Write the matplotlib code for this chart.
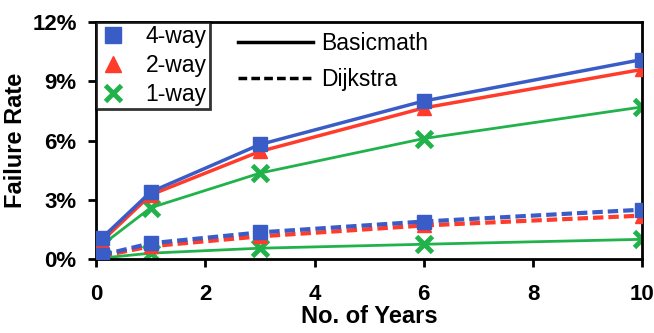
import matplotlib.pyplot as plt
from matplotlib.lines import Line2D

years = [0.1, 1, 3, 6, 10]

# Basicmath failure rate (%)
basic_4way = [1.05, 3.4, 5.8, 8.0, 10.1]
basic_2way = [0.9, 3.25, 5.45, 7.65, 9.6]
basic_1way = [0.7, 2.6, 4.35, 6.1, 7.7]

# Dijkstra failure rate (%)
dijk_4way = [0.2, 0.8, 1.35, 1.9, 2.5]
dijk_2way = [0.15, 0.65, 1.15, 1.7, 2.2]
dijk_1way = [0.05, 0.3, 0.55, 0.75, 1.0]

yticks = [0, 3, 6, 9, 12]
ytick_labels = ['0%', '3%', '6%', '9%', '12%']
xticks = [0, 2, 4, 6, 8, 10]

blue = '#3a5cc6'
red = '#ff3b2b'
green = '#22b24c'

plt.rcParams['font.family'] = ['Liberation Sans', 'DejaVu Sans']

fig = plt.figure(figsize=(6.54, 3.33), dpi=100)
ax = fig.add_axes([0.147, 0.222, 0.835, 0.712])

ax.plot(years, basic_4way, color=blue, lw=2.5, marker='s', ms=10, zorder=4)
ax.plot(years, basic_2way, color=red, lw=2.5, marker='^', ms=10, zorder=3)
ax.plot(years, basic_1way, color=green, lw=2, marker='x', ms=11, mew=3.5, zorder=2)

ax.plot(years, dijk_4way, color=blue, lw=3, ls=(0, (2.5, 1.2)), marker='s', ms=10, zorder=4)
ax.plot(years, dijk_2way, color=red, lw=3, ls=(0, (2.5, 1.2)), marker='^', ms=10, zorder=3)
ax.plot(years, dijk_1way, color=green, lw=2, marker='x', ms=11, mew=3.5, zorder=2)

ax.set_xlim(0, 10)
ax.set_ylim(0, 12)
ax.set_xticks(xticks)
ax.set_yticks(yticks)
ax.set_yticklabels(ytick_labels)
for lab in ax.get_xticklabels() + ax.get_yticklabels():
    lab.set_fontweight('bold')
    lab.set_fontsize(16)
ax.tick_params(axis='x', direction='out', length=6, width=2, pad=12)
ax.tick_params(axis='y', direction='out', length=6, width=2, pad=8)
for sp in ax.spines.values():
    sp.set_linewidth(2)

ax.set_xlabel('No. of Years', fontsize=17, fontweight='bold', labelpad=0)
ax.set_ylabel('Failure Rate', fontsize=17, fontweight='bold', labelpad=4)

marker_handles = [
    Line2D([], [], color=blue, marker='s', ls='none', ms=11),
    Line2D([], [], color=red, marker='^', ls='none', ms=12),
    Line2D([], [], color=green, marker='x', ls='none', ms=11, mew=3.5),
]
leg1 = ax.legend(marker_handles, ['4-way', '2-way', '1-way'], loc='upper left',
                 bbox_to_anchor=(0.0, 1.0), fontsize=16.5, frameon=True, fancybox=False,
                 edgecolor='black', handlelength=1.2, handletextpad=0.8,
                 borderpad=0.15, labelspacing=0.25, borderaxespad=0)
leg1.get_frame().set_linewidth(2)
ax.add_artist(leg1)

style_handles = [
    Line2D([], [], color='black', lw=2.5),
    Line2D([], [], color='black', lw=2.5, ls=(0, (2.5, 1.2))),
]
ax.legend(style_handles, ['Basicmath', 'Dijkstra'], loc='upper left',
          bbox_to_anchor=(0.24, 1.0), fontsize=16.5, frameon=False,
          handlelength=3.3, handletextpad=0.35, labelspacing=0.55, borderaxespad=0.05)

fig.savefig('out.png', dpi=100)
